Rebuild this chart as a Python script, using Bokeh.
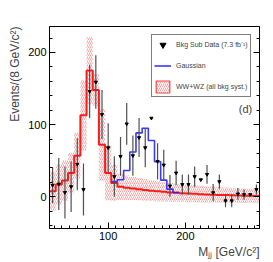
from math import pi
from bokeh.plotting import figure
from bokeh.models import (LinearAxis, SingleIntervalTicker, Label, Legend, LegendItem,
                          ColumnDataSource, Title, CustomJSTickFormatter)
from bokeh.embed import file_html
from bokeh.resources import INLINE

# ---- data ----
bin_centers = [28, 36, 44, 52, 60, 68, 76, 84, 92, 100, 108, 116, 124, 132, 140, 148, 156,
               164, 172, 180, 188, 196, 204, 212, 220, 228, 236, 244, 252, 260, 268, 276, 284, 292]
bin_half = 4

data_y = [16, 17.6, 6, 14, 45, 10, 146, 159, 114, 68, 28, 56, 101, 57, 82, 68, 109,
          49, 44, 15, 33, 17, 17, 28, 23.6, 31, 5.6, 21, -5.6, -5.6, 4, 3, 3, 10]
data_err = [25, 36, 36, 35, 36, 36, 37, 37, 34, 34, 28, 27, 29, 28, 27, 27, 0,
            25, 21, 15, 17, 14, 14, 14, 0, 13, 12, 10, 9, 9, 8, 7, 0, 7]

wwwz_y = [7.5, 17, 22.5, 33, 57, 113, 175, 148, 72, 33, 19, 14, 12.5, 11.5, 10.5, 9.5, 8.5,
          7.5, 6.8, 6, 5.5, 5, 4.5, 4, 3.6, 3.2, 2.9, 2.6, 2.3, 2, 1.8, 1.5, 1.3, 1.0]
wwwz_syst = [27, 28, 28, 28, 32, 49, 46, 22, 50, 38, 25, 18, 17, 16, 15.5, 15, 14.5,
             14, 13.5, 13, 12.5, 12, 12, 11.5, 11.5, 11, 11, 10.5, 10.5, 10, 10, 10, 9.5, 9.5]

gauss_centers = [108, 116, 124, 132, 140, 148, 156, 164, 172, 180, 188]
gauss_y = [21, 23.5, 36.5, 62, 88.5, 95, 78, 48.6, 23, 10.6, 6]

x_range = (24, 296)
y_range = (-44, 236)

FONT = "Liberation Sans"
HATCH = "#f07a7a"

p = figure(width=273, height=262, x_range=x_range, y_range=y_range,
           output_backend="svg", toolbar_location=None,
           min_border_left=49, min_border_right=14, min_border_top=26, min_border_bottom=34)
p.background_fill_color = "white"
p.border_fill_color = "white"
p.outline_line_color = "black"
p.outline_line_width = 1
p.xgrid.visible = False
p.ygrid.visible = False

# axes
p.xaxis.ticker = SingleIntervalTicker(interval=100, num_minor_ticks=10)
p.yaxis.ticker = SingleIntervalTicker(interval=100, num_minor_ticks=5)
for ax in (p.xaxis[0], p.yaxis[0]):
    ax.major_tick_in = 6
    ax.major_tick_out = 0
    ax.minor_tick_in = 3
    ax.minor_tick_out = 0
    ax.major_label_text_font = FONT
    ax.major_label_text_font_size = "11px"
    ax.major_label_text_color = "black"
    ax.major_label_standoff = 3
    ax.axis_line_color = "black"
    ax.major_tick_line_color = "black"
    ax.minor_tick_line_color = "black"

raxis = LinearAxis(ticker=SingleIntervalTicker(interval=100, num_minor_ticks=5),
                   formatter=CustomJSTickFormatter(code="return ''"),
                   major_tick_in=6, major_tick_out=0, minor_tick_in=3, minor_tick_out=0,
                   major_label_standoff=0, axis_line_color="black")
p.add_layout(raxis, "right")

# axis titles
p.add_layout(Title(text="Events/(8 GeV/c\u00b2)", align="right", text_font=FONT,
                   text_font_size="12px", text_font_style="normal", standoff=8), "left")
p.add_layout(Title(text="M\u2c7c\u2c7c [GeV/c\u00b2]", align="right", text_font=FONT,
                   text_font_size="12px", text_font_style="normal", standoff=0), "below")

# systematic band (hatched)
lefts = [c - bin_half for c in bin_centers]
rights = [c + bin_half for c in bin_centers]
band_src = ColumnDataSource(dict(
    left=lefts, right=rights,
    bottom=[v - s for v, s in zip(wwwz_y, wwwz_syst)],
    top=[v + s for v, s in zip(wwwz_y, wwwz_syst)]))
p.quad(left="left", right="right", bottom="bottom", top="top", source=band_src,
       fill_alpha=0, line_alpha=0, hatch_pattern="/", hatch_color=HATCH,
       hatch_alpha=0.85, hatch_scale=4, hatch_weight=0.8)

# legend-only proxy (NaN geometry, draws nothing in the frame)
nan = float("nan")
r_leg_band = p.quad(left=[nan], right=[nan], bottom=[nan], top=[nan], fill_alpha=0,
                    line_color="#ff4040", line_width=1.2, hatch_pattern="/",
                    hatch_color=HATCH, hatch_alpha=0.85, hatch_scale=4, hatch_weight=0.8)

# WW+WZ step
p.step(x=lefts + [rights[-1]], y=wwwz_y + [wwwz_y[-1]], mode="after",
       line_color="#ff1a1a", line_width=2)

# Gaussian step
g_lefts = [c - bin_half for c in gauss_centers]
r_gauss = p.step(x=g_lefts + [gauss_centers[-1] + bin_half], y=gauss_y + [gauss_y[-1]],
                 mode="after", line_color="#2424ff", line_width=1.6, line_alpha=0.9)

# data with error bars
p.segment(x0=bin_centers, x1=bin_centers,
          y0=[v - e for v, e in zip(data_y, data_err)],
          y1=[v + e for v, e in zip(data_y, data_err)],
          line_color="#505050", line_width=1.2)
r_data = p.scatter(x=bin_centers, y=data_y, marker="inverted_triangle", size=3.2,
                   fill_color="black", line_color="black")

legend = Legend(items=[
    LegendItem(label="Bkg Sub Data (7.3 fb\u207b\u00b9)", renderers=[r_data]),
    LegendItem(label="Gaussian", renderers=[r_gauss]),
    LegendItem(label="WW+WZ (all bkg syst.)", renderers=[r_leg_band]),
], location=(102, 131), margin=0, padding=2, spacing=6,
    glyph_width=17, glyph_height=15, label_height=15, label_standoff=5,
    label_text_font=FONT, label_text_font_size="7px",
    border_line_color="black", border_line_width=1, background_fill_alpha=1)
p.add_layout(legend)

p.add_layout(Label(x=196, y=120, x_units="screen", y_units="screen", text="(d)",
                   text_font=FONT, text_font_size="11px", text_align="center",
                   text_baseline="middle"))

open("out.html", "w").write(file_html(p, INLINE))
